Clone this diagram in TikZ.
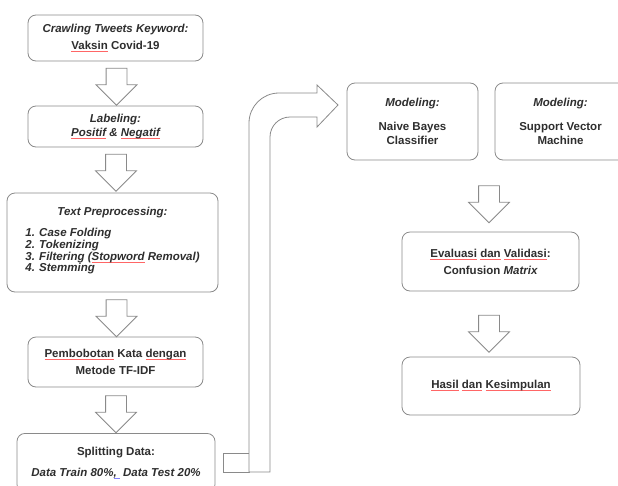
\documentclass[tikz,border=0pt]{standalone}
\usepackage{fontspec}
\setmainfont{Liberation Sans}
\usetikzlibrary{shapes.arrows}
\definecolor{linegray}{HTML}{8A8A8A}
\definecolor{textgray}{HTML}{2E2E2E}
\newsavebox{\ulbox}
\newcommand{\redul}[1]{\sbox{\ulbox}{#1}\rlap{\textcolor{red!60}{\rule[-2pt]{\wd\ulbox}{0.5pt}}}\usebox{\ulbox}}
\newcommand{\blueul}[1]{\sbox{\ulbox}{#1}\rlap{\textcolor{blue!50}{\rule[-2pt]{\wd\ulbox}{0.5pt}}}\usebox{\ulbox}}

\begin{document}
\begin{tikzpicture}[x=1pt, y=-1pt]
    \tikzstyle{box}=[draw=linegray, line width=0.8pt, rounded corners=8pt, fill=white, text=textgray, font=\fontsize{11.5}{14}\selectfont\bfseries, align=center, inner sep=0pt];
    \tikzstyle{harrow}=[draw=linegray, line width=0.8pt, fill=white, single arrow, shape border rotate=270, minimum height=37pt, minimum width=40pt, single arrow head extend=10pt, inner sep=10pt];

    \useasboundingbox (0,0) rectangle (618,485);
    \clip (0,0) rectangle (618,485);

    \node[box, minimum width=175pt, minimum height=46pt] (crawl) at (115.5,38)
        {{\itshape Crawling Tweets Keyword:}\\[3pt]\redul{Vaksin} Covid-19};
    \node[box, minimum width=175pt, minimum height=41pt] (label) at (115.5,126.5)
        {{\itshape Labeling:}\\{\itshape\redul{Positif} \& \redul{Negatif}}};
    \node[box, minimum width=211pt, minimum height=99pt] (prep) at (112.5,242.5)
        {{\itshape Text Preprocessing:}\\[10pt]
         \fontsize{11.5}{11}\selectfont\itshape
         \begin{tabular}{@{}l@{}}
         1. Case Folding\\
         2. Tokenizing\\
         3. Filtering (\redul{Stopword} Removal)\\
         4. Stemming
         \end{tabular}\\[2pt]};
    \node[box, minimum width=175pt, minimum height=50pt] (tfidf) at (115.5,362)
        {\redul{Pembobotan} Kata \redul{dengan}\\[3pt]Metode TF-IDF};
    \node[box, minimum width=198pt, minimum height=59pt, anchor=north] (split) at (116,433)
        {Splitting Data:\\[7pt]{\itshape Data Train 80\%\blueul{,\ } Data Test 20\%}};

    \node[box, minimum width=131pt, minimum height=77pt] (nb) at (412.5,121.5)
        {{\itshape Modeling:}\\[10pt]Naive Bayes\\Classifier};
    \node[box, minimum width=131pt, minimum height=77pt] (svm) at (560.5,121.5)
        {{\itshape Modeling:}\\[10pt]Support Vector\\Machine};
    \node[box, minimum width=177pt, minimum height=59pt] (eval) at (490.5,261.5)
        {\redul{Evaluasi} \redul{dan} \redul{Validasi}:\\[3pt]Confusion {\itshape Matrix}};
    \node[box, minimum width=178pt, minimum height=58pt] (hasil) at (491,386)
        {\redul{Hasil} \redul{dan} \redul{Kesimpulan}};

    \node[harrow] (a1) at (116.5,81.5) {};
    \node[harrow] (a2) at (116,167.5) {};
    \node[harrow] (a3) at (116.5,313) {};
    \node[harrow] (a4) at (116,409) {};
    \node[harrow] (a5) at (489,199) {};
    \node[harrow] (a6) at (489,328.5) {};

    \draw[draw=linegray, line width=0.8pt, fill=white] (223,453) rectangle (249,472);
    \draw[draw=linegray, line width=0.8pt, fill=white]
        (249,472) [rounded corners=30pt] -- (249,93) [sharp corners] -- (317,93) -- (317,85)
        -- (338,105) -- (317,127) -- (317,117) [rounded corners=20pt] -- (270,117)
        [sharp corners] -- (270,472) -- cycle;
\end{tikzpicture}
\end{document}
